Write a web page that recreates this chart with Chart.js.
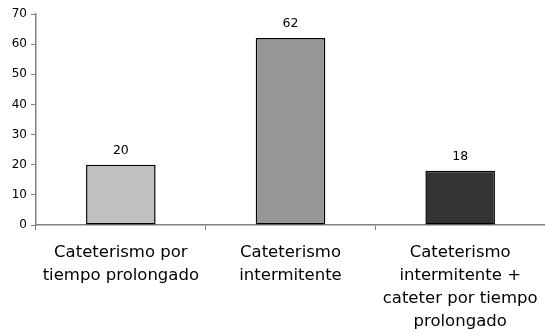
<!DOCTYPE html>
<html>
<head>
<meta charset="utf-8">
<script src="https://cdn.jsdelivr.net/npm/chart.js@4"></script>
<style>
  html, body { margin: 0; padding: 0; background: #fff; }
  #wrap { width: 545px; height: 335px; }
</style>
</head>
<body>
<div id="wrap"><canvas id="c" width="545" height="335"></canvas></div>
<script>
const categories = [
  ["Cateterismo por", "tiempo prolongado"],
  ["Cateterismo", "intermitente"],
  ["Cateterismo", "intermitente +", "cateter por tiempo", "prolongado"]
];
const values = [20, 62, 18];
const barColors = ["#c0c0c0", "#969696", "#333333"];
const yTicks = [0, 10, 20, 30, 40, 50, 60, 70];

const FONT = "'DejaVu Sans', 'Liberation Sans', Arial, sans-serif";

// Value printed above each bar, taken from the same data array
const valueLabels = {
  id: "valueLabels",
  afterDatasetsDraw(chart) {
    const ctx = chart.ctx;
    const meta = chart.getDatasetMeta(0);
    ctx.save();
    ctx.font = "12.5px " + FONT;
    ctx.fillStyle = "#000";
    ctx.textAlign = "center";
    ctx.textBaseline = "alphabetic";
    meta.data.forEach((bar, i) => {
      ctx.fillText(String(values[i]), bar.x, bar.y - 11);
    });
    ctx.restore();
  }
};

new Chart(document.getElementById("c"), {
  type: "bar",
  data: {
    labels: categories,
    datasets: [{
      data: values,
      backgroundColor: barColors,
      borderColor: "#000",
      borderWidth: 1.5,
      borderSkipped: false,
      barPercentage: 0.41,
      categoryPercentage: 1.0
    }]
  },
  options: {
    responsive: false,
    animation: false,
    devicePixelRatio: 1,
    layout: { padding: { top: 14, right: 0, left: 0, bottom: 0 } },
    plugins: { legend: { display: false }, tooltip: { enabled: false } },
    scales: {
      x: {
        afterFit(scale) {
          scale.height = 110;
          scale.paddingLeft = 0;
          scale.paddingRight = 0;
        },
        grid: {
          offset: true,
          drawOnChartArea: false,
          drawTicks: true,
          tickLength: 5,
          color: "#808080",
          lineWidth: 1
        },
        border: { display: true, color: "#808080", width: 1.5 },
        ticks: {
          color: "#000",
          font: { family: FONT, size: 16.5, lineHeight: 1.4 },
          padding: 11,
          maxRotation: 0,
          autoSkip: false
        }
      },
      y: {
        min: 0,
        max: 70,
        afterFit(scale) { scale.width = 36; },
        afterBuildTicks(scale) { scale.ticks = yTicks.map(v => ({ value: v })); },
        grid: {
          drawOnChartArea: false,
          drawTicks: true,
          tickLength: 5,
          color: "#808080"
        },
        border: { display: true, color: "#808080", width: 1.5 },
        ticks: {
          color: "#000",
          font: { family: FONT, size: 12 },
          padding: 4
        }
      }
    }
  },
  plugins: [valueLabels]
});
</script>
</body>
</html>
